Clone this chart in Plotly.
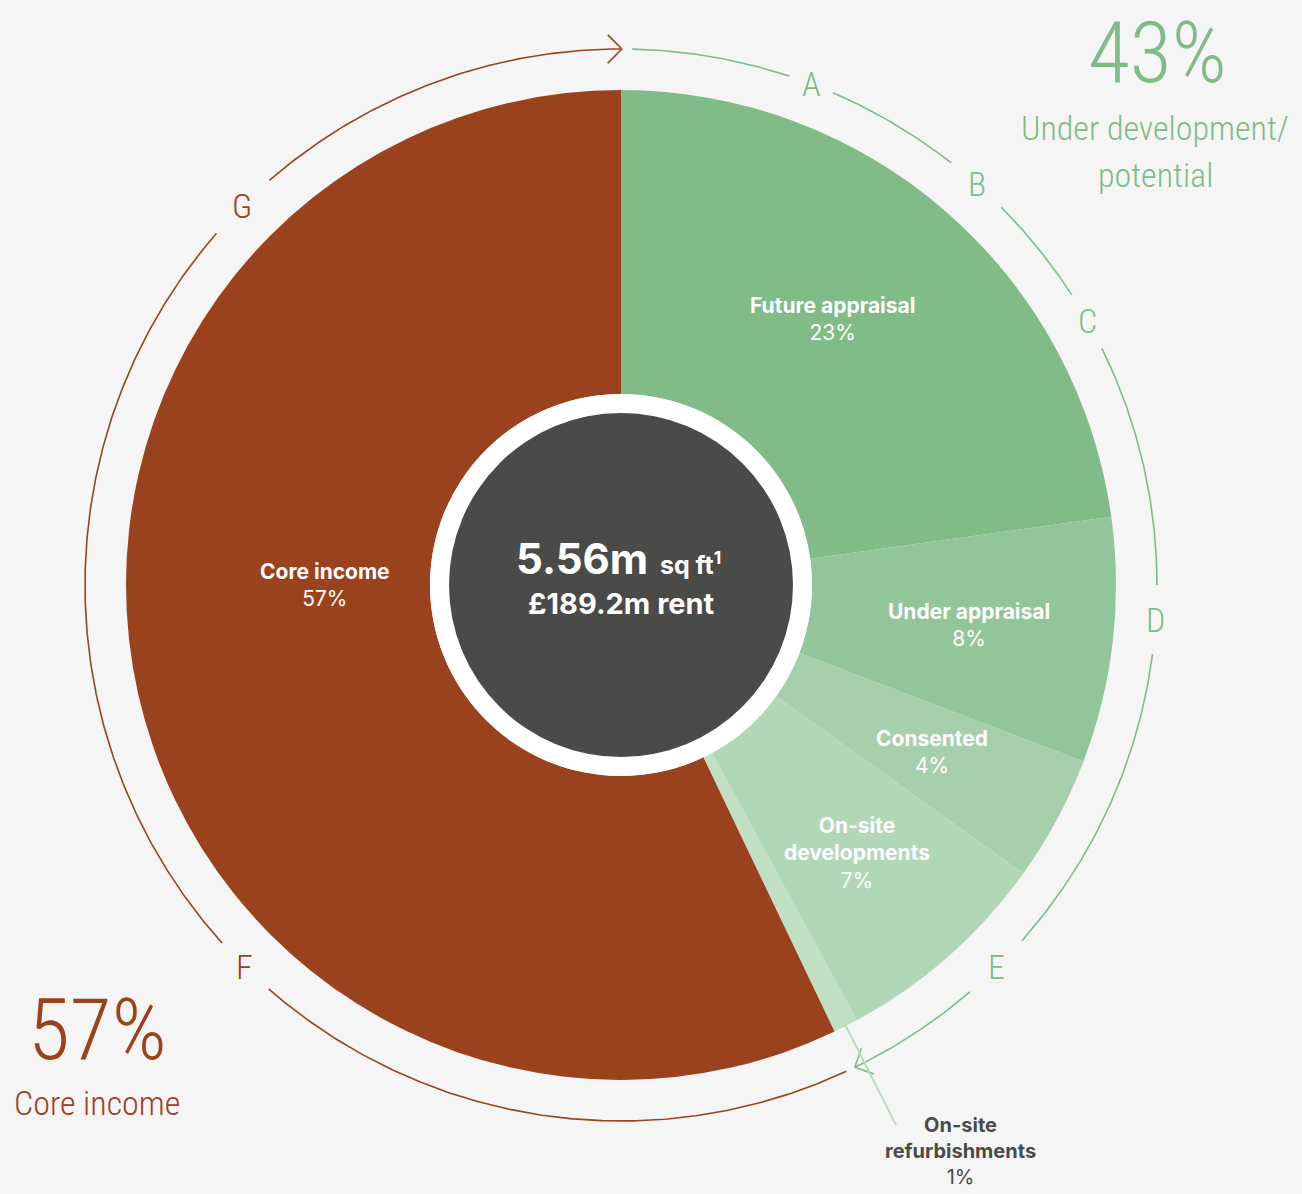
import numpy as np
import plotly.graph_objects as go

# ---------------- data ----------------
categories = ["Future appraisal", "Under appraisal", "Consented",
              "On-site developments", "On-site refurbishments", "Core income"]
label_lines = ["Future appraisal", "Under appraisal", "Consented",
               "On-site<br>developments", "On-site<br>refurbishments", "Core income"]
values = [22.8, 8.0, 4.1, 7.2, 0.8, 57.1]
pct_labels = ["23%", "8%", "4%", "7%", "1%", "57%"]

arc_letters = ["A", "B", "C", "D", "E", "F", "G"]
letter_angles = [20.8, 41.6, 60.5, 93.7, 135.5, 224.6, 315.0]
letter_gaps = [2.5, 3.6, 3.3, 3.7, 3.9, 3.5, 4.0]

center_line1 = "5.56m"
center_unit = "sq ft"
center_line2 = "£189.2m rent"
group_green = ("43%", "Under development/", "potential")
group_brown = ("57%", "Core income")

# ---------------- style ----------------
W, H = 1302, 1194
CX, CY = 621, 585
R_OUT = 495
R_RING = 191
R_DARK = 172
R_ARC = 536
BG = "#f5f5f5"
GREEN = "#80bb88"
BROWN = "#9a421e"
DARK = "#4a4a48"
slice_colors = ["#80bb88", "#93c59b", "#a6cfac", "#b2d7b7", "#c0dfc3", "#9a421e"]
COND = "Roboto, Liberation Sans Narrow, sans-serif"
SANS = "Inter, Roboto, DejaVu Sans, sans-serif"


def cfont(size, color):
    return dict(family=COND, size=size, color=color, weight=300)


def cond(t):
    return f"<span style='font-stretch:ultra-condensed'>{t}</span>"


def pt(angle, r):
    a = np.deg2rad(angle)
    return CX + r * np.sin(a), CY - r * np.cos(a)


total = sum(values)
cum = np.cumsum([0] + values)
mid_angles = [(cum[i] + values[i] / 2) / total * 360 for i in range(len(values))]
split_angle = cum[5] / total * 360

fig = go.Figure()

fig.add_trace(go.Pie(
    labels=categories, values=values, sort=False, direction="clockwise",
    rotation=0, hole=R_RING / R_OUT,
    marker=dict(colors=slice_colors, line=dict(width=0)),
    textinfo="none", hoverinfo="label+percent", showlegend=False,
    domain=dict(x=[(CX - R_OUT) / W, (CX + R_OUT) / W],
                y=[(H - CY - R_OUT) / H, (H - CY + R_OUT) / H]),
))


def arc_trace(a0, a1, color, gaps):
    xs, ys = [], []
    cuts = sorted((c - g, c + g) for c, g in gaps if a0 < c < a1)
    segs = []
    s = a0
    for g0, g1 in cuts:
        segs.append((s, g0))
        s = g1
    segs.append((s, a1))
    for s0, s1 in segs:
        ang = np.linspace(s0, s1, max(4, int((s1 - s0) * 3)))
        x, y = pt(ang, R_ARC)
        xs += list(x) + [None]
        ys += list(y) + [None]
    tip = pt(a1, R_ARC)
    t = np.deg2rad(a1)
    back = np.array([-np.cos(t), -np.sin(t)])
    for s in (1, -1):
        c, sn = np.cos(np.deg2rad(45 * s)), np.sin(np.deg2rad(45 * s))
        d = np.array([back[0] * c - back[1] * sn, back[0] * sn + back[1] * c]) * 20
        xs += [tip[0] + d[0], tip[0], None]
        ys += [tip[1] + d[1], tip[1], None]
    fig.add_trace(go.Scatter(x=xs, y=ys, mode="lines", line=dict(color=color, width=1.6),
                             hoverinfo="skip", showlegend=False))


gaps = list(zip(letter_angles, letter_gaps))
arc_trace(1.2, split_angle - 0.3, GREEN, gaps)
arc_trace(split_angle + 0.7, 360.1, BROWN, gaps)

la = mid_angles[4]
lx0, ly0 = pt(la, R_OUT - 2)
lx1, ly1 = pt(la, 606)
fig.add_trace(go.Scatter(x=[lx0, lx1], y=[ly0, ly1], mode="lines",
                         line=dict(color="#bcdcc0", width=2), hoverinfo="skip", showlegend=False))

annotations = []
for L, a in zip(arc_letters, letter_angles):
    x, y = pt(a, R_ARC)
    col = GREEN if a < split_angle else BROWN
    annotations.append(dict(x=x, y=y, text=cond(L), showarrow=False, xref="x", yref="y",
                            font=cfont(34, col)))

label_r = [340, 350, 353, 357]
label_da = [-2.5, 0, 0, 0]
for i in range(4):
    x, y = pt(mid_angles[i] + label_da[i], label_r[i])
    annotations.append(dict(x=x, y=y, xref="x", yref="y", showarrow=False,
                            text=f"<b>{label_lines[i]}</b><br>{pct_labels[i]}",
                            font=dict(family=SANS, size=21, color="white")))
x, y = pt(270, 296)
annotations.append(dict(x=x, y=y, xref="x", yref="y", showarrow=False,
                        text=f"<b>{label_lines[5]}</b><br>{pct_labels[5]}",
                        font=dict(family=SANS, size=21, color="white")))
annotations.append(dict(x=lx1 + 64, y=ly1 - 14, xref="x", yref="y", showarrow=False,
                        yanchor="top",
                        text=f"<b>{label_lines[4]}</b><br>{pct_labels[4]}",
                        font=dict(family=SANS, size=20, color=DARK)))

annotations.append(dict(x=CX - 3, y=CY - 27, xref="x", yref="y", showarrow=False,
                        text=f"<b>{center_line1}</b> <b><span style='font-size:25px'>{center_unit}<sup>1</sup></span></b>",
                        font=dict(family=SANS, size=42, color="white")))
annotations.append(dict(x=CX, y=CY + 18, xref="x", yref="y", showarrow=False,
                        text=f"<b>{center_line2}</b>",
                        font=dict(family=SANS, size=29, color="white")))

annotations.append(dict(x=1157, y=52, xref="x", yref="y", showarrow=False,
                        text=cond(group_green[0]), font=cfont(86, GREEN)))
annotations.append(dict(x=1155, y=128, xref="x", yref="y", showarrow=False,
                        text=cond(group_green[1]), font=cfont(34, GREEN)))
annotations.append(dict(x=1155, y=175, xref="x", yref="y", showarrow=False,
                        text=cond(group_green[2]), font=cfont(34, GREEN)))
annotations.append(dict(x=97, y=1029, xref="x", yref="y", showarrow=False,
                        text=cond(group_brown[0]), font=cfont(86, BROWN)))
annotations.append(dict(x=97, y=1103, xref="x", yref="y", showarrow=False,
                        text=cond(group_brown[1]), font=cfont(34, BROWN)))

shapes = [
    dict(type="circle", xref="x", yref="y", x0=CX - R_RING, x1=CX + R_RING,
         y0=CY - R_RING, y1=CY + R_RING, fillcolor="white", line=dict(width=0), layer="above"),
    dict(type="circle", xref="x", yref="y", x0=CX - R_DARK, x1=CX + R_DARK,
         y0=CY - R_DARK, y1=CY + R_DARK, fillcolor=DARK, line=dict(width=0), layer="above"),
]

fig.update_layout(
    width=W, height=H, autosize=False,
    margin=dict(l=0, r=0, t=0, b=0, pad=0),
    paper_bgcolor=BG, plot_bgcolor=BG,
    xaxis=dict(range=[0, W], visible=False, fixedrange=True, domain=[0, 1]),
    yaxis=dict(range=[H, 0], visible=False, fixedrange=True, domain=[0, 1]),
    annotations=annotations, shapes=shapes, showlegend=False,
)

fig.write_html("out.html")
